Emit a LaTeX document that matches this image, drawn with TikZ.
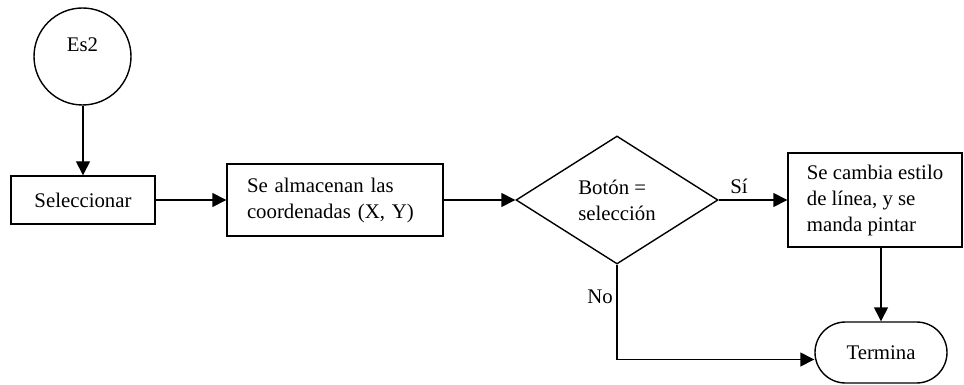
\documentclass[tikz,border=0pt]{standalone}
\usepackage{fontspec}
\setmainfont{Liberation Serif}
\usetikzlibrary{shapes.geometric,shapes.misc,arrows.meta}
\tikzset{
  base/.style={draw=black, line width=1.4pt, font=\fontsize{20.8}{26}\selectfont, inner sep=0pt},
  circ/.style={base, circle, minimum size=97pt},
  boxnode/.style={base, rectangle, align=left},
  decide/.style={base, diamond, minimum width=202pt, minimum height=128pt, aspect=1.58, align=left},
  endnode/.style={base, rounded rectangle, minimum width=132pt, minimum height=61pt},
  lbl/.style={font=\fontsize{20.8}{26}\selectfont, inner sep=0pt},
  flow/.style={line width=1.4pt, -{Triangle[length=14pt,width=14pt]}}
}
\begin{document}
\begin{tikzpicture}[x=1pt,y=-1pt]
\useasboundingbox (0,0) rectangle (964,385);
\node[circ, label={[lbl, yshift=11.5pt]center:Es2}] (es2) at (82.5,56.5) {};
\node[boxnode, minimum width=144pt, minimum height=48pt] (sel) at (83,200) {Seleccionar};
\node[boxnode, minimum width=216pt, minimum height=72pt, text width=176pt] (alm) at (335,200) {Se almacenan las\\coordenadas (X, Y)};
\node[decide] (dia) at (617,200) {Botón =\\selección};
\node[boxnode, minimum width=174pt, minimum height=94pt] (chg) at (875,200) {Se cambia estilo\\de línea, y se\\manda pintar};
\node[endnode] (term) at (881,352.5) {Termina};
\node[lbl] (si) at (739,186) {Sí};
\node[lbl] (no) at (600,297) {No};
\draw[flow] (es2.south -| sel.north) -- (sel.north);
\draw[flow] (sel.east) -- (alm.west);
\draw[flow] (alm.east) -- (dia.west);
\draw[flow] (dia.east) -- (chg.west);
\draw[flow] (term.north |- chg.south) -- (term.north);
\draw[flow] (dia.south) |- ([yshift=-7pt]term.west);
\end{tikzpicture}
\end{document}
